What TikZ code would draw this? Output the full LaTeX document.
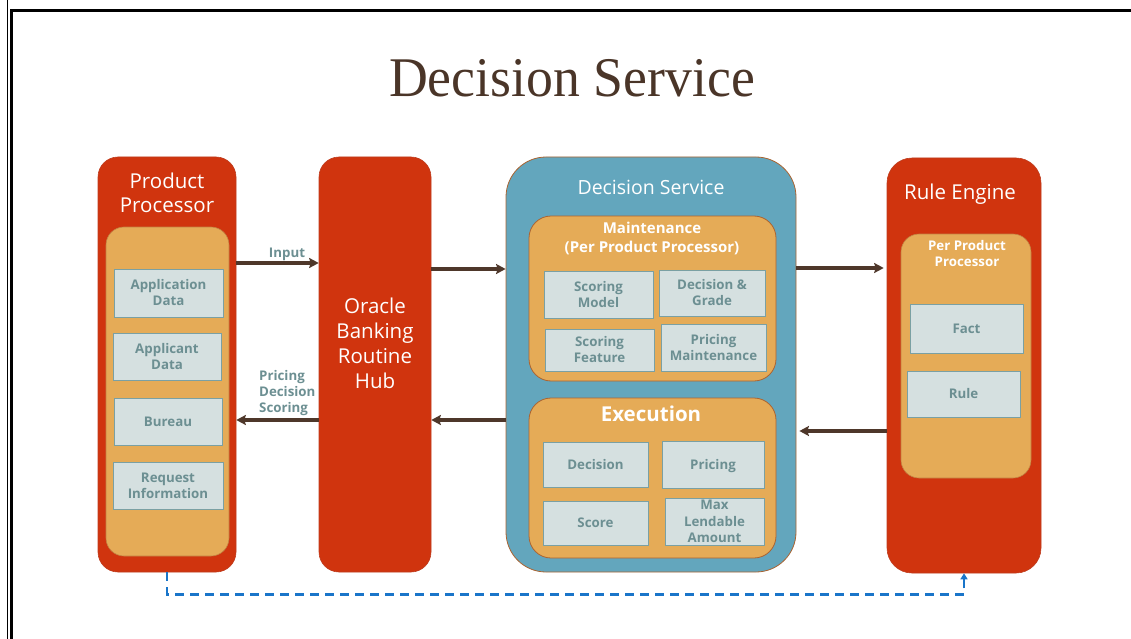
\documentclass[tikz,border=0pt]{standalone}
\usepackage{fontspec}
\setmainfont{Open Sans}
\newfontfamily\titlefont{Liberation Serif}
\usetikzlibrary{arrows.meta}
\definecolor{ored}{RGB}{208,52,14}
\definecolor{oredline}{RGB}{190,60,30}
\definecolor{oorange}{RGB}{229,171,87}
\definecolor{oorangeline}{RGB}{170,100,50}
\definecolor{oblue}{RGB}{99,166,189}
\definecolor{oboxfill}{RGB}{213,224,224}
\definecolor{oboxline}{RGB}{122,160,163}
\definecolor{otext}{RGB}{108,143,146}
\definecolor{obrown}{RGB}{78,55,42}
\definecolor{otitle}{RGB}{74,53,40}
\definecolor{odash}{RGB}{26,117,201}
\tikzset{
  redbox/.style={fill=ored, draw=oredline, line width=0.6pt, rounded corners=20pt, inner sep=0pt},
  orangebox/.style={fill=oorange, draw=oorangeline!60!oorange, line width=0.6pt, rounded corners=18pt, inner sep=0pt},
  orangeboxb/.style={fill=oorange, draw=oorangeline, line width=0.8pt, rounded corners=22pt, inner sep=0pt},
  bluebox/.style={fill=oblue, draw=oorangeline, line width=0.8pt, rounded corners=40pt, inner sep=0pt},
  item/.style={fill=oboxfill, draw=oboxline, line width=1pt, inner sep=0pt, align=center,
    text=otext, font=\fontsize{13.3}{16}\selectfont\bfseries},
  wtitle/.style={text=white, align=center, inner sep=0pt, font=\fontsize{20.5}{24.5}\selectfont},
  wbold/.style={text=white, align=center, inner sep=0pt, font=\fontsize{15.5}{19}\selectfont\bfseries},
  wsmall/.style={text=white, align=center, inner sep=0pt, font=\fontsize{13.3}{16}\selectfont\bfseries},
  lbl/.style={text=otext, inner sep=0pt, font=\fontsize{13.3}{16}\selectfont\bfseries},
  flow/.style={draw=obrown, line width=3.3pt, -{Stealth[length=9.5pt,width=10pt,inset=1.5pt]}},
  link/.style={draw=odash, line width=2.8pt, dash pattern=on 9pt off 6pt, -{Triangle[length=6pt,width=7pt]}}
}
\begin{document}
\begin{tikzpicture}[x=1pt,y=-1pt]
\useasboundingbox (0,0) rectangle (1131,639);
% frame
\draw[line width=1.3pt] (7.5,0) -- (7.5,639);
\draw[line width=2.2pt] (11.5,639) -- (11.5,10.5) -- (1131,10.5);
% title
\node[text=otitle, inner sep=0pt, font=\titlefont\fontsize{56}{60}\selectfont] (title) at (572,78.5) {\scalebox{0.96}[1]{Decision Service}};

% Product Processor
\node[redbox, minimum width=138pt, minimum height=415pt] (pp) at (167,364.5) {};
\node[wtitle] (pptitle) at (167,193) {Product\\Processor};
\node[orangebox, minimum width=123pt, minimum height=329pt] (ppin) at (167.5,391.5) {};
\node[item, minimum width=109pt, minimum height=48pt] (appdata) at (168.5,293) {Application\\Data};
\node[item, minimum width=108pt, minimum height=47pt] (applicant) at (167,356.5) {Applicant\\Data};
\node[item, minimum width=108pt, minimum height=47pt] (bureau) at (168,421.5) {Bureau};
\node[item, minimum width=110pt, minimum height=47pt] (request) at (168,485.5) {Request\\Information};

% Hub
\node[redbox, minimum width=112pt, minimum height=415pt] (hub) at (375,364.5) {};
\node[wtitle, font=\fontsize{20.5}{25}\selectfont] (hubtitle) at (375,343.5) {Oracle\\Banking\\Routine\\Hub};

% Decision Service
\node[bluebox, minimum width=290pt, minimum height=415pt] (ds) at (651,364.5) {};
\node[wtitle, font=\fontsize{19.5}{24}\selectfont] (dstitle) at (651,187) {Decision Service};
\node[orangeboxb, minimum width=247pt, minimum height=165pt] (maint) at (652.5,298.5) {};
\node[wbold, font=\fontsize{15}{19}\selectfont\bfseries] (mainttitle) at (652,238.5) {Maintenance\\(Per Product Processor)};
\node[item, minimum width=109pt, minimum height=47pt] (scoremodel) at (598.5,294.5) {Scoring\\Model};
\node[item, minimum width=106pt, minimum height=46pt] (decgrade) at (712,293) {Decision \&\\Grade};
\node[item, minimum width=109pt, minimum height=42pt] (scorefeat) at (599.5,350) {Scoring\\Feature};
\node[item, minimum width=105pt, minimum height=47pt] (pricemaint) at (713.5,347.5) {Pricing\\Maintenance};
\node[orangeboxb, minimum width=247pt, minimum height=160pt] (exec) at (652.5,478) {};
\node[wbold, font=\fontsize{20.5}{24}\selectfont\bfseries] (exectitle) at (651,414) {Execution};
\node[item, minimum width=105pt, minimum height=45pt] (decision) at (595.5,464.5) {Decision};
\node[item, minimum width=102pt, minimum height=47pt] (pricing) at (713,464.5) {\raisebox{0pt}[\height][0pt]{Pricing}};
\node[item, minimum width=105pt, minimum height=44pt] (score) at (595.5,523) {Score};
\node[item, minimum width=99pt, minimum height=47pt, font=\fontsize{13.3}{16.5}\selectfont\bfseries] (maxlend) at (714.5,521.5) {Max\\Lendable\\Amount};

% Rule Engine
\node[redbox, rounded corners=25pt, minimum width=154pt, minimum height=415pt] (re) at (964,365.5) {};
\node[wtitle] (retitle) at (960,194) {Rule Engine};
\node[orangebox, minimum width=130pt, minimum height=244pt] (rein) at (966,356) {};
\node[wsmall] (reintitle) at (967,254) {Per Product\\Processor};
\node[item, minimum width=113pt, minimum height=49pt] (fact) at (966.5,328.5) {Fact};
\node[item, minimum width=113pt, minimum height=46pt] (rule) at (963.5,394) {Rule};

% levels
\coordinate (yinput) at (0,263);
\coordinate (ydsin) at (0,269);
\coordinate (yback) at (0,420);
\coordinate (yreout) at (0,268);
\coordinate (yrein) at (0,431);

% connectors
\draw[flow] (pp.east |- yinput) -- (hub.west |- yinput);
\node[lbl] (inputlbl) at (287,254) {Input};
\draw[flow] (hub.west |- yback) -- (pp.east |- yback);
\node[lbl, align=left, anchor=west] (retlbl) at (259,393) {Pricing\\Decision\\Scoring};
\draw[flow] (hub.east |- ydsin) -- (ds.west |- ydsin);
\draw[flow] (ds.west |- yback) -- (hub.east |- yback);
\draw[flow, shorten >=3pt] (ds.east |- yreout) -- (re.west |- yreout);
\draw[flow, shorten >=3pt] (re.west |- yrein) -- (ds.east |- yrein);
\draw[link] (pp.south) -- ++(0,22) -| (re.south);
\end{tikzpicture}
\end{document}
